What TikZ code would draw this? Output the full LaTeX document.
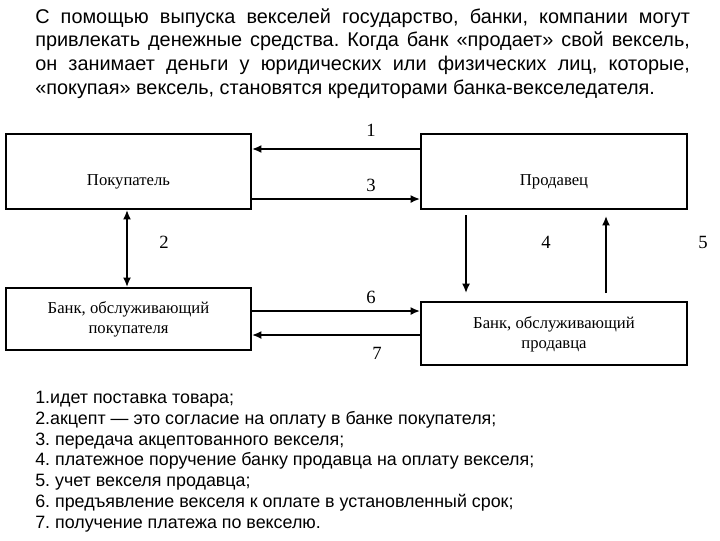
\documentclass[tikz,border=0pt]{standalone}
\usepackage{fontspec}
\setmainfont{Liberation Sans}
\newfontfamily\serifd{Liberation Serif}
\usetikzlibrary{arrows.meta}
\begin{document}
\frenchspacing
\begin{tikzpicture}[x=0.75pt,y=-0.75pt,
  boxt/.style={font=\serifd\fontsize{12.5}{15}\selectfont,align=center,inner sep=0pt},
  frame/.style={line width=1pt},
  arr/.style={line width=1.3pt,-{Latex[length=7pt,width=6pt]}},
  lab/.style={font=\serifd\fontsize{14}{16}\selectfont}]
\useasboundingbox (0,0) rectangle (720,540);
\node[anchor=north west,text width=491pt,align=justify,inner sep=0pt,font=\fontsize{14.9}{17.8}\selectfont] (para) at (35,8)
{С помощью выпуска векселей государство, банки, компании могут\linebreak привлекать денежные средства. Когда банк «продает» свой вексель,\linebreak он занимает деньги у юридических или физических лиц, которые,\linebreak «покупая» вексель, становятся кредиторами банка-векселедателя.};
\node[boxt] (buyt) at (128.5,182) {Покупатель};
\draw[frame] (6,134) rectangle (251,209);
\node[boxt] (sel) at (554,182) {Продавец};
\draw[frame] (421,134) rectangle (687,209);
\node[boxt] (bb) at (128.5,319) {Банк, обслуживающий\\покупателя};
\draw[frame] (6,288) rectangle (251,350);
\node[boxt] (bs) at (554,334) {Банк, обслуживающий\\продавца};
\draw[frame] (421,302) rectangle (687,365);
\coordinate (a1s) at (421,149); \coordinate (a1e) at (252,149);
\coordinate (a3s) at (251,199); \coordinate (a3e) at (420,199);
\coordinate (a2s) at (127,210); \coordinate (a2e) at (127,287);
\coordinate (a4s) at (466,215); \coordinate (a4e) at (466,293);
\coordinate (a5s) at (606,293); \coordinate (a5e) at (606,216);
\coordinate (a6s) at (251,311); \coordinate (a6e) at (420,311);
\coordinate (a7s) at (421,335); \coordinate (a7e) at (252,335);
\draw[arr] (a1s) -- (a1e);
\draw[arr] (a3s) -- (a3e);
\draw[arr,{Latex[length=7pt,width=6pt]}-{Latex[length=7pt,width=6pt]}] (a2s) -- (a2e);
\draw[arr] (a4s) -- (a4e);
\draw[arr] (a5s) -- (a5e);
\draw[arr] (a6s) -- (a6e);
\draw[arr] (a7s) -- (a7e);
\node[lab] (l1) at (371,130) {1};
\node[lab] (l3) at (371,185) {3};
\node[lab] (l2) at (164,242) {2};
\node[lab] (l4) at (546,242) {4};
\node[lab] (l5) at (703,242) {5};
\node[lab] (l6) at (371,297) {6};
\node[lab] (l7) at (377,353) {7};
\node[anchor=north west,align=left,inner sep=0pt,font=\fontsize{13.4}{15.6}\selectfont] (list) at (35,391)
{1.идет поставка товара;\\
2.акцепт — это согласие на оплату в банке покупателя;\\
3. передача акцептованного векселя;\\
4. платежное поручение банку продавца на оплату векселя;\\
5. учет векселя продавца;\\
6. предъявление векселя к оплате в установленный срок;\\
7. получение платежа по векселю.};
\end{tikzpicture}
\end{document}
